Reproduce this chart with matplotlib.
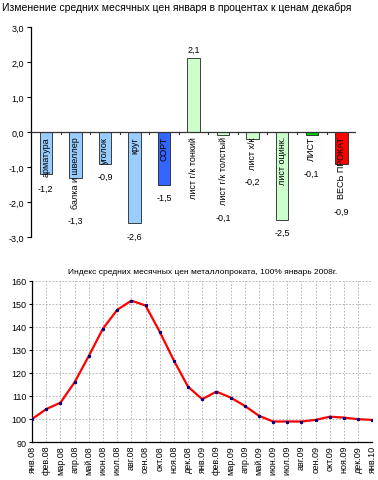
import matplotlib
matplotlib.use("Agg")
import matplotlib.pyplot as plt

plt.rcParams['font.family'] = ['Liberation Sans', 'DejaVu Sans']

# top chart: change of January prices vs December, %
categories = ["арматура", "балка и швеллер", "уголок", "круг", "СОРТ",
              "лист г/к тонкий", "лист г/к толстый", "лист х/к",
              "лист оцинк.", "ЛИСТ", "ВЕСЬ ПРОКАТ"]
changes = [-1.2, -1.3, -0.9, -2.6, -1.5, 2.1, -0.1, -0.2, -2.5, -0.1, -0.9]
bar_colors = ["#99CCFF", "#99CCFF", "#99CCFF", "#99CCFF", "#3366FF",
              "#CCFFCC", "#CCFFCC", "#CCFFCC", "#CCFFCC", "#00CC00", "#FF0000"]

# bottom chart: monthly price index, Jan 2008 = 100
months = ["янв.08", "фев.08", "мар.08", "апр.08", "май.08", "июн.08",
          "июл.08", "авг.08", "сен.08", "окт.08", "ноя.08", "дек.08",
          "янв.09", "фев.09", "мар.09", "апр.09", "май.09", "июн.09",
          "июл.09", "авг.09", "сен.09", "окт.09", "ноя.09", "дек.09",
          "янв.10"]
index = [100, 104.3, 107.1, 116, 127.4, 139.3, 147.4, 151.4, 149.3, 137.9,
         125.4, 114, 108.6, 111.9, 109.3, 105.7, 101.4, 98.9, 98.9, 98.9,
         99.6, 101, 100.6, 99.9, 99.6]


def fmt(v):
    return f"{v:.1f}".replace(".", ",")


fig = plt.figure(figsize=(3.78, 4.81), dpi=100)

# ---------------------------------------------------------------------
ax1 = fig.add_axes([0.082, 0.505, 0.86, 0.437])
xs = list(range(len(categories)))
ax1.bar(xs, changes, width=0.42, color=bar_colors, edgecolor="#222222",
        linewidth=0.6, zorder=2)
ax1.set_xlim(-0.5, len(categories) - 0.5)
ax1.set_ylim(-3.0, 3.0)
ax1.set_yticks([3, 2, 1, 0, -1, -2, -3])
ax1.set_yticklabels([fmt(t) for t in [3, 2, 1, 0, -1, -2, -3]])
ax1.tick_params(axis="y", labelsize=6.5, length=3, width=0.8, pad=2)
for s in ["top", "right", "bottom"]:
    ax1.spines[s].set_visible(False)
ax1.spines["left"].set_linewidth(0.9)
ax1.axhline(0, color="#333333", lw=0.9, zorder=3)
ax1.set_xticks([])
for b in range(1, len(categories)):
    ax1.plot([b - 0.5, b - 0.5], [0, -0.07], color="#333333", lw=0.8,
             zorder=3)

cat_texts = []
for i, name in enumerate(categories):
    t = ax1.annotate(name, (i, 0), xytext=(0, -3), textcoords="offset points",
                     rotation=90, ha="center", va="top", fontsize=6.5,
                     zorder=4)
    cat_texts.append(t)

fig.canvas.draw()
r = fig.canvas.get_renderer()
inv = ax1.transData.inverted()
for i, v in enumerate(changes):
    if v > 0:
        ax1.annotate(fmt(v), (i, v), xytext=(0, 3), textcoords="offset points",
                     ha="center", va="bottom", fontsize=6.5)
    else:
        bb = cat_texts[i].get_window_extent(r)
        y_txt = inv.transform((bb.x0, bb.y0))[1]
        ax1.annotate(fmt(v), (i, min(v, y_txt)), xytext=(0, -6),
                     textcoords="offset points", ha="center", va="top",
                     fontsize=6.5)

fig.text(0.005, 0.983, "Изменение средних месячных цен января в процентах к ценам декабря",
         ha="left", va="center", fontsize=7.5)

# ---------------------------------------------------------------------
ax2 = fig.add_axes([0.085, 0.079, 0.9, 0.335])
mx = list(range(len(months)))
ax2.plot(mx, index, color="#FF0000", lw=1.6, zorder=3)
ax2.plot(mx, index, ls="none", marker="s", ms=1.3, color="#000080", zorder=4)
ax2.set_xlim(0, len(months) - 1)
ax2.set_ylim(90, 160)
ax2.set_yticks(range(90, 161, 10))
ax2.set_xticks(mx)
ax2.set_xticklabels(months, rotation=90)
ax2.tick_params(axis="y", labelsize=6.5, length=2, pad=2)
ax2.tick_params(axis="x", labelsize=6.5, length=0, pad=2)
ax2.grid(True, color="#AAAAAA", ls=(0, (2, 2)), lw=0.6)
for s in ["top", "right"]:
    ax2.spines[s].set_visible(False)
ax2.spines["left"].set_linewidth(0.9)
ax2.spines["bottom"].set_linewidth(0.9)
ax2.set_title("Индекс средних месячных цен металлопроката, 100% январь 2008г.",
              fontsize=6, pad=6)

fig.savefig("out.png", dpi=100)
